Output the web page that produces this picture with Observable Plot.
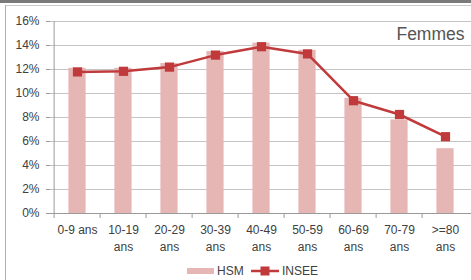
<!DOCTYPE html>
<html>
<head>
<meta charset="utf-8">
<script src="https://cdn.jsdelivr.net/npm/d3@7"></script>
<script src="https://cdn.jsdelivr.net/npm/@observablehq/plot@0.6"></script>
<style>
  html, body { margin: 0; padding: 0; background: #fff; }
  #wrap { position: relative; width: 471px; height: 280px; overflow: hidden; font-family: "Liberation Sans", Arial, sans-serif; }
  #topbar { position: absolute; left: 0; top: 0; width: 471px; height: 3px; background: #7a7a7a; }
  #topline { position: absolute; left: 5px; top: 5px; width: 466px; height: 1px; background: #c8c8c8; }
  #leftline { position: absolute; left: 5px; top: 5px; width: 1px; height: 275px; background: #b0b0b0; }
  #chart { position: absolute; left: 0; top: 0; }
  #legend { position: absolute; left: 0; top: 264px; width: 471px; height: 16px; font-size: 12px; color: #404040; }
  .item { position: absolute; top: 0; display: flex; align-items: center; gap: 3px; }
</style>
</head>
<body>
<div id="wrap">
  <div id="topbar"></div>
  <div id="topline"></div>
  <div id="leftline"></div>
  <div id="chart"></div>
  <div id="legend">
    <div class="item" style="left:187px"><svg width="27" height="14"><rect x="0" y="4" width="27" height="6" fill="#e6b6b5"></rect></svg><span>HSM</span></div>
    <div class="item" style="left:251px"><svg width="28" height="14"><line x1="0" y1="7" x2="28" y2="7" stroke="#c0393b" stroke-width="2.5"></line><rect x="9.5" y="2.5" width="9" height="9" fill="#c0393b"></rect></svg><span>INSEE</span></div>
  </div>
</div>
<script>
const categories = ["0-9 ans", "10-19\nans", "20-29\nans", "30-39\nans", "40-49\nans", "50-59\nans", "60-69\nans", "70-79\nans", ">=80\nans"];
const hsm = [12.1, 12.1, 12.5, 13.5, 14.2, 13.6, 9.6, 7.8, 5.4];
const insee = [11.8, 11.85, 12.2, 13.2, 13.9, 13.3, 9.4, 8.25, 6.4];
const yTicks = [0, 2, 4, 6, 8, 10, 12, 14, 16];
const label = "Femmes";

const data = categories.map((c, i) => ({cat: c, hsm: hsm[i], insee: insee[i]}));

const W = 471, H = 258, ML = 50, MR = 0, MT = 21, MB = 45;
const step = (W - ML - MR) / categories.length;
const barW = 18;

const chart = Plot.plot({
  width: W,
  height: H,
  marginLeft: ML,
  marginRight: MR,
  marginTop: MT,
  marginBottom: MB,
  style: {fontFamily: '"Liberation Sans", Arial, sans-serif', fontSize: "12px", color: "#404040", background: "transparent"},
  x: {type: "band", domain: categories, padding: 0},
  y: {domain: [0, 16]},
  marks: [
    Plot.gridY(yTicks, {stroke: "#c4c4c4", strokeOpacity: 1}),
    Plot.barY(data, {x: "cat", y: "hsm", fill: "#e6b6b5", insetLeft: (step - barW) / 2, insetRight: (step - barW) / 2}),
    Plot.ruleY([0], {stroke: "#9a9a9a"}),
    Plot.ruleX([0], {x: () => categories[0], dx: -step / 2, y1: 0, y2: 16, stroke: "#9a9a9a"}),
    Plot.ruleX(categories, {x: d => d, dx: -step / 2, y1: 0, y2: 0, insetBottom: -5, stroke: "#9a9a9a"}),
    Plot.axisY(yTicks, {tickFormat: d => d + "%", tickSize: 4, tickPadding: 7, stroke: "#9a9a9a", fill: "#404040", label: null, fontSize: 12}),
    Plot.axisX({tickSize: 0, tickPadding: 9, label: null, lineHeight: 1.4, fill: "#404040", fontSize: 12}),
    Plot.lineY(data, {x: "cat", y: "insee", stroke: "#c0393b", strokeWidth: 2.5}),
    Plot.dot(data, {x: "cat", y: "insee", symbol: "square", r: 5.2, fill: "#c0393b"}),
    Plot.text([label], {text: d => d, frameAnchor: "top-right", dx: -7, dy: 6, fontSize: 17.5, fill: "#555", textAnchor: "end"})
  ]
});
document.getElementById("chart").appendChild(chart);
</script>
</body>
</html>
